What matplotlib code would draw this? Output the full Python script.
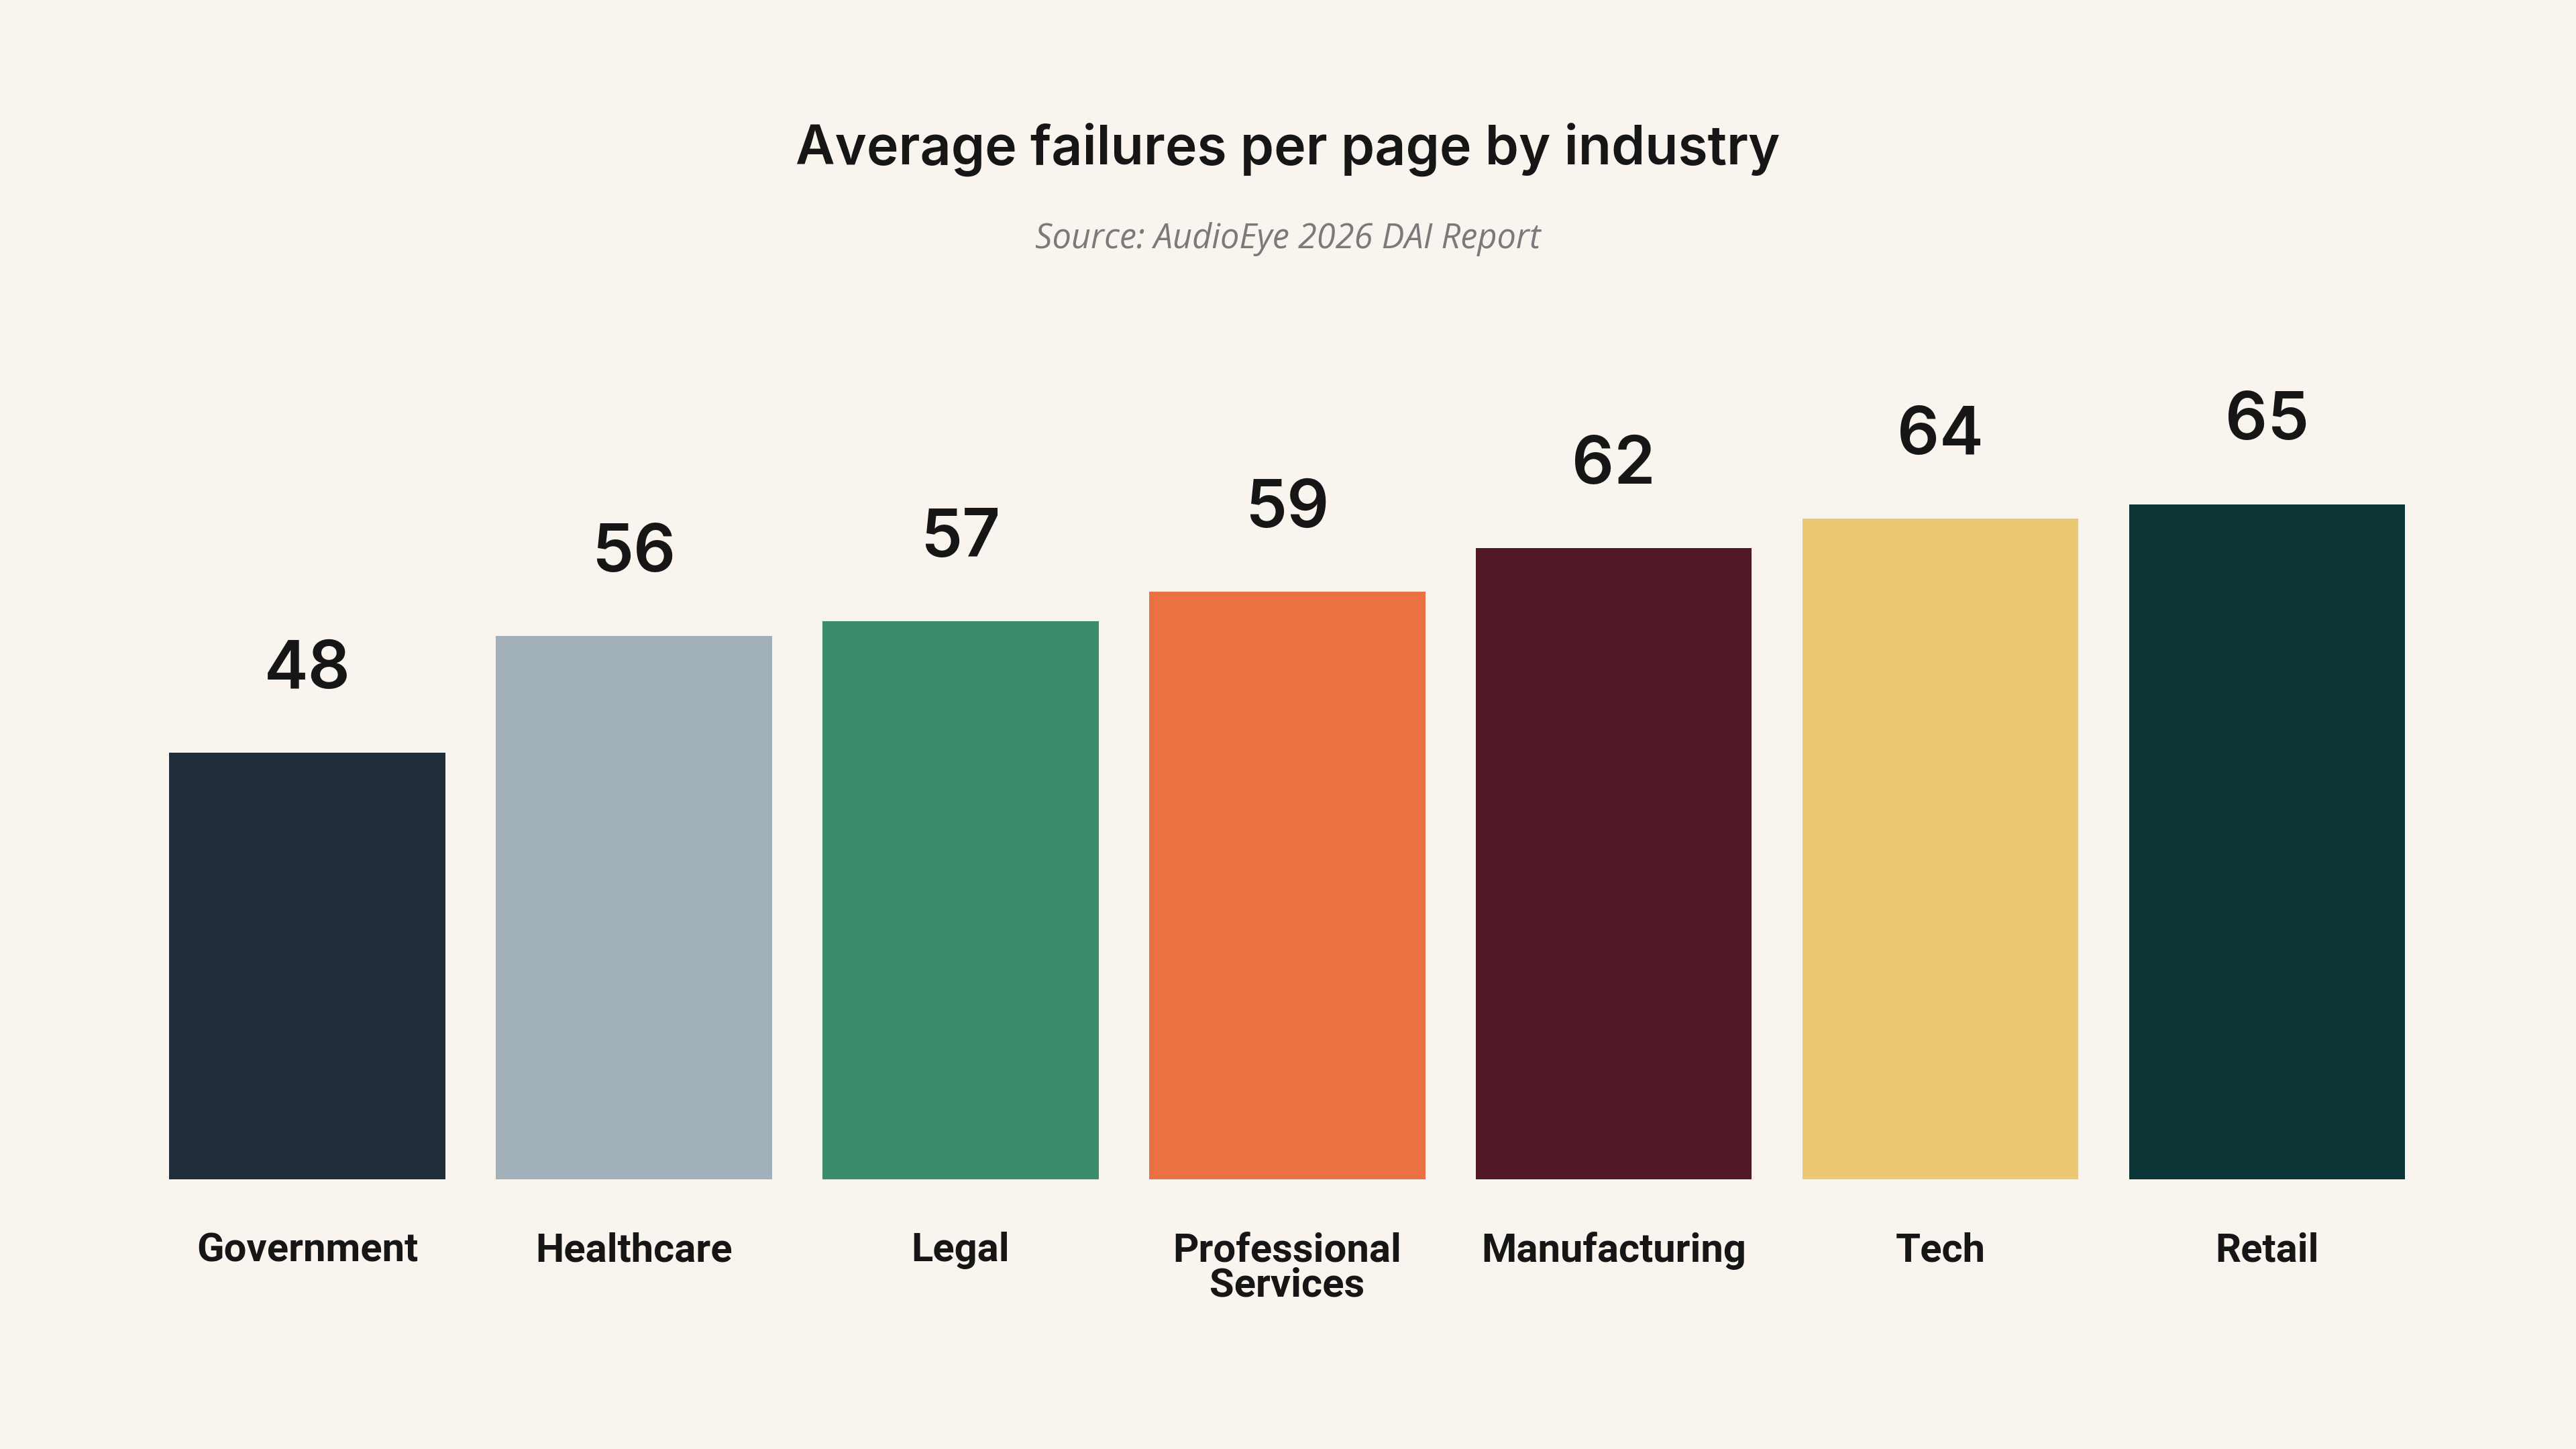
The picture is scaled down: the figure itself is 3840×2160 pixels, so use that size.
import matplotlib
matplotlib.use("Agg")
import matplotlib.pyplot as plt

# data
industries = ["Government", "Healthcare", "Legal", "Professional\nServices",
              "Manufacturing", "Tech", "Retail"]
failures = [48, 56, 57, 59, 62, 64, 65]
bar_colors = ["#222d3b", "#a2b1b9", "#3a8c6b", "#eb7142",
              "#511826", "#edc872", "#0b3434"]

title = "Average failures per page by industry"
subtitle = "Source: AudioEye 2026 DAI Report"

BG = "#f9f4ee"
INK = "#161616"

fig = plt.figure(figsize=(19.2, 10.8), dpi=200, facecolor=BG)

ax = fig.add_axes([103 / 1568, 0.186, (1464 - 103) / 1568, 0.466])
ax.set_facecolor(BG)

x = range(len(industries))
bars = ax.bar(x, failures, width=0.845, color=bar_colors, linewidth=0)

ax.set_xlim(-0.4225, len(industries) - 1 + 0.4225)
ax.set_ylim(18.8, 65)

for b, v in zip(bars, failures):
    ax.annotate(f"{v}", (b.get_x() + b.get_width() / 2, b.get_height()),
                xytext=(0, 44), textcoords="offset points",
                ha="center", va="center", fontsize=35.5,
                fontfamily="Inter", fontweight="semibold", color=INK)

ax.set_xticks(list(x))
ax.set_xticklabels(industries, fontsize=21.5, fontfamily="Roboto",
                   fontweight="bold", color=INK, linespacing=0.92)
ax.tick_params(axis="x", length=0, pad=28)
ax.tick_params(axis="y", left=False, labelleft=False)
for s in ax.spines.values():
    s.set_visible(False)

fig.text(0.5, 0.897, title, ha="center", va="center", fontsize=29,
         fontfamily="Inter", fontweight="semibold", color=INK)
fig.text(0.5, 0.835, subtitle, ha="center", va="center", fontsize=18.2,
         fontfamily="Open Sans", style="italic", color="#7a7a7a")

fig.savefig("out.png", dpi=200, facecolor=BG)
